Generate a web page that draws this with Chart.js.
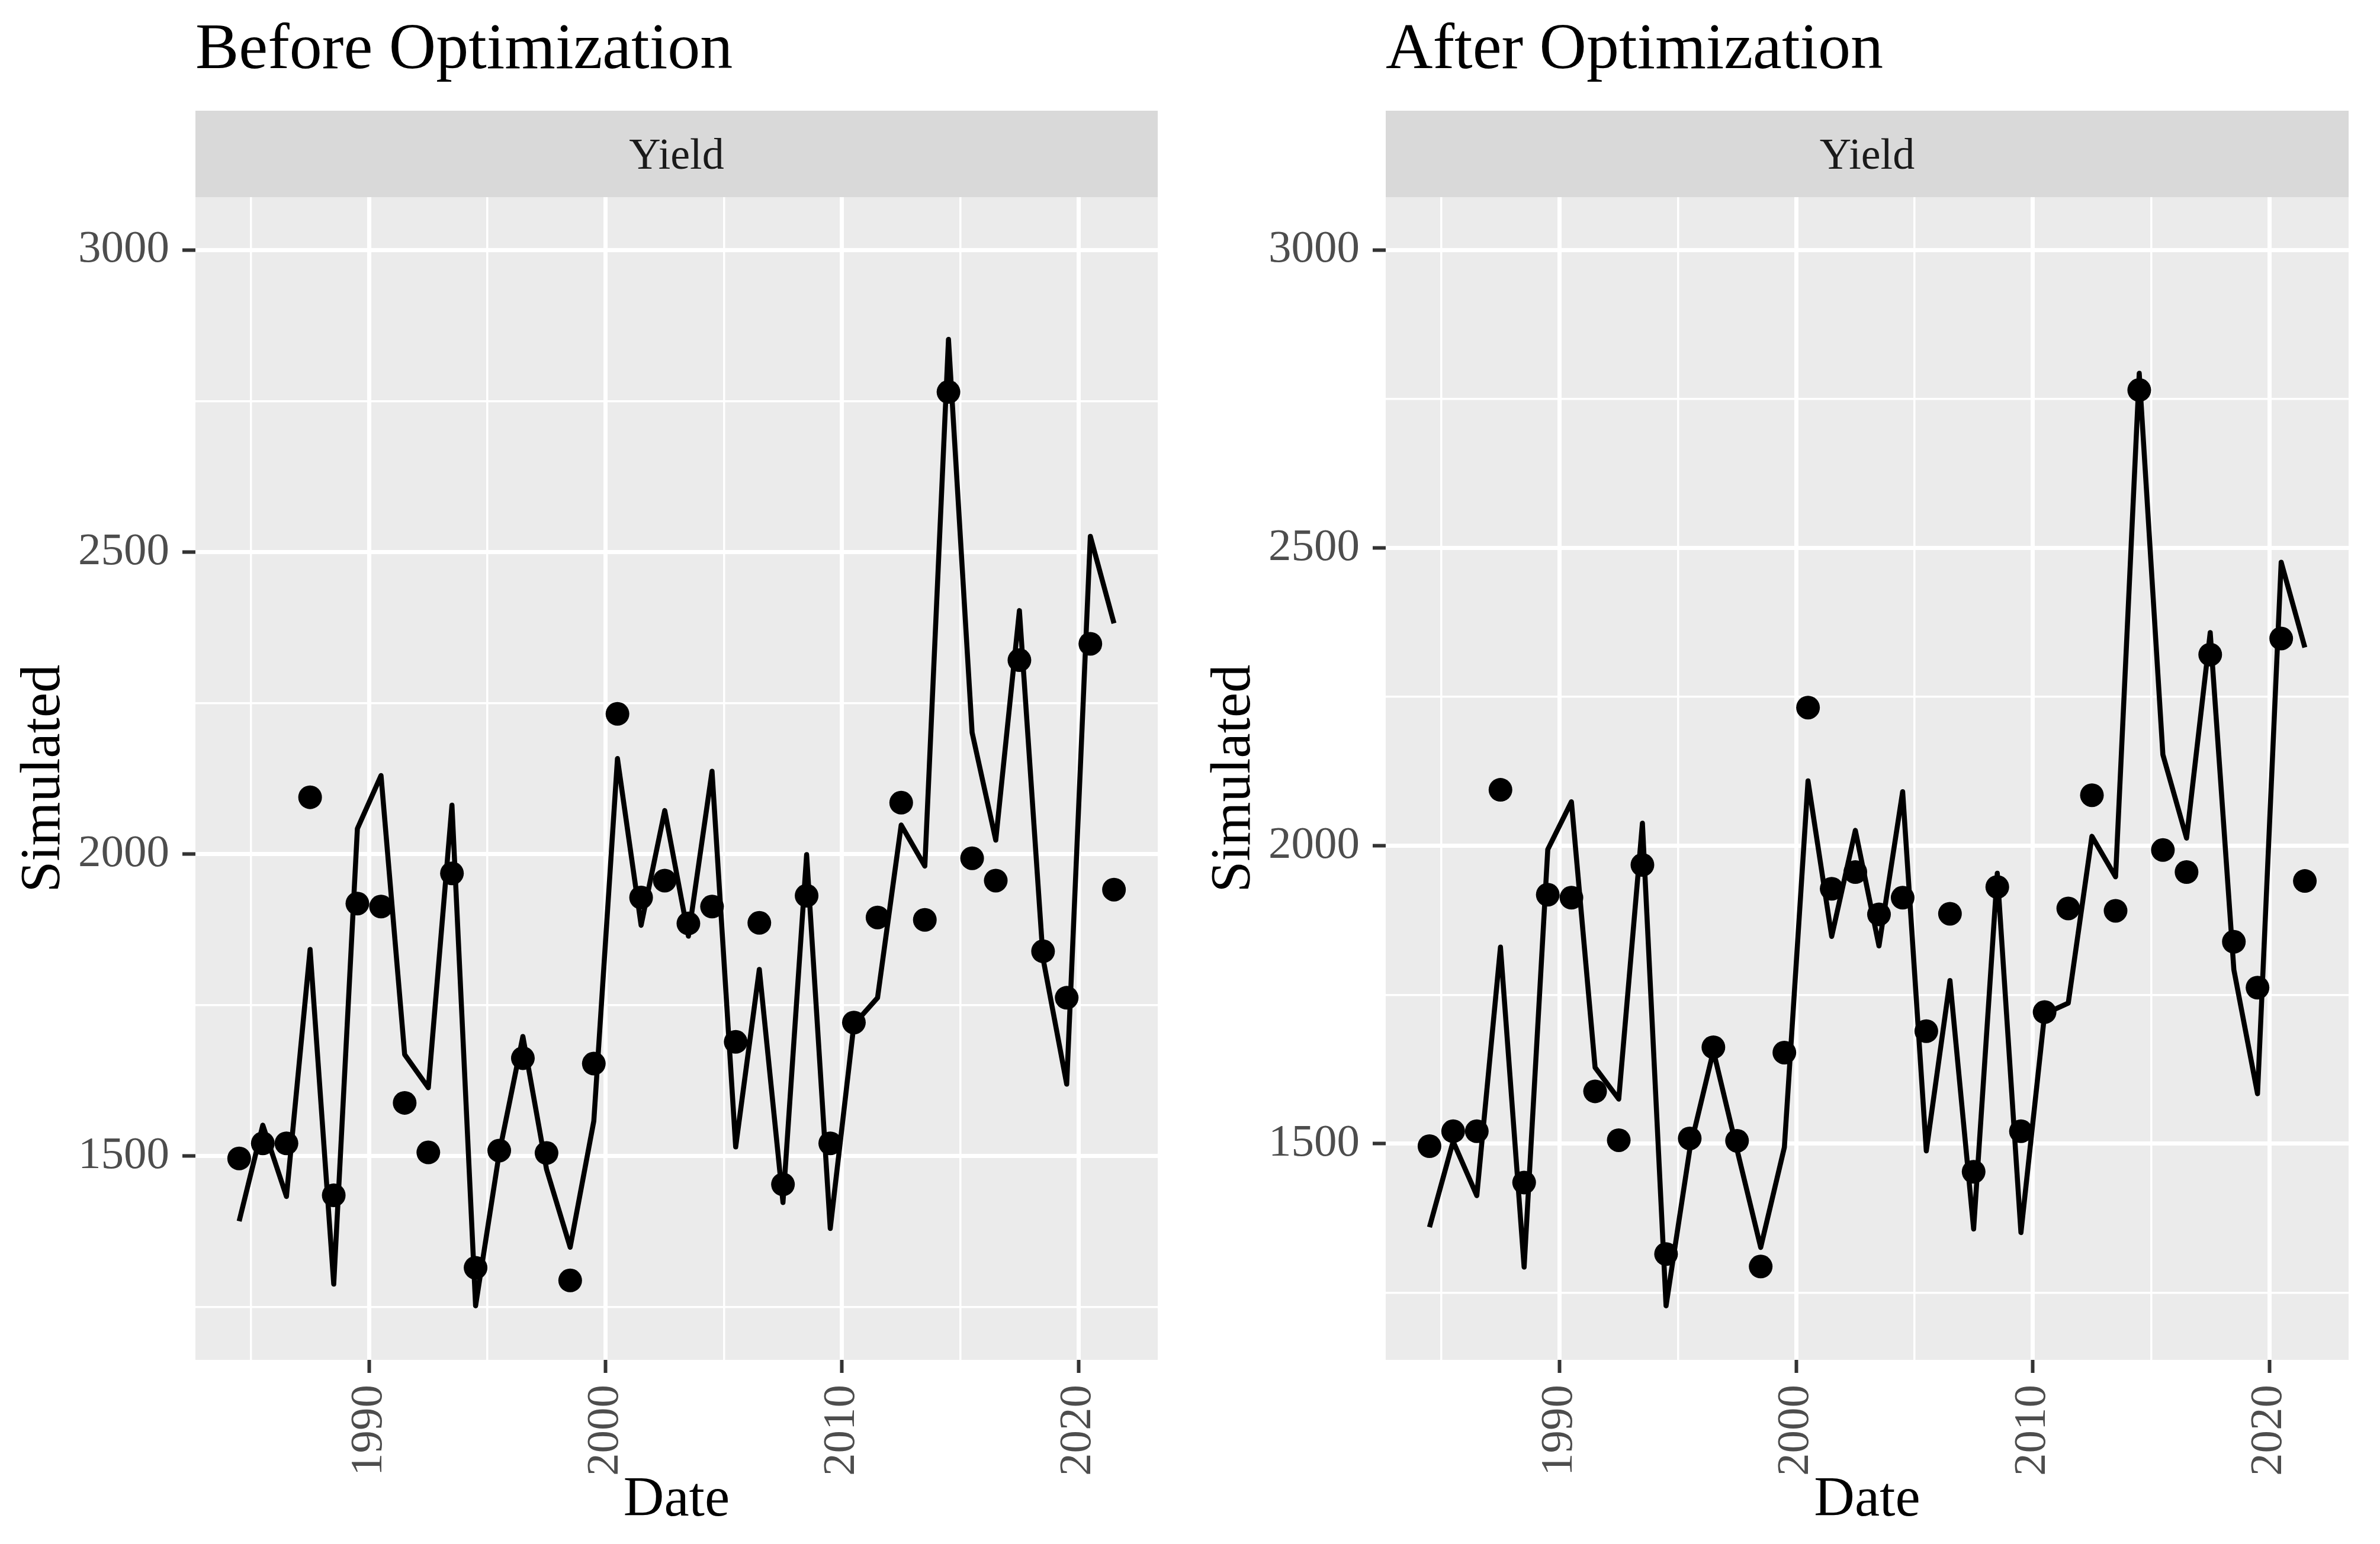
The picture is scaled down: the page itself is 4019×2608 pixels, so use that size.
<!DOCTYPE html>
<html>
<head>
<meta charset="utf-8">
<script src="https://cdn.jsdelivr.net/npm/chart.js@4.4.1/dist/chart.umd.min.js"></script>
<style>
  html, body { margin: 0; padding: 0; background: #FFFFFF; }
  #wrap { position: relative; width: 4019px; height: 2608px; overflow: hidden; background: #FFFFFF; }
  canvas { position: absolute; top: 0; }
</style>
</head>
<body>
<div id="wrap">
  <canvas id="c1" width="2010" height="2608" style="left:0px"></canvas>
  <canvas id="c2" width="2009" height="2608" style="left:2010px"></canvas>
</div>
<script>
// ---------------- DATA ----------------
const years = [1984.5, 1985.5, 1986.5, 1987.5, 1988.5, 1989.5, 1990.5, 1991.5, 1992.5, 1993.5,
               1994.5, 1995.5, 1996.5, 1997.5, 1998.5, 1999.5, 2000.5, 2001.5, 2002.5, 2003.5,
               2004.5, 2005.5, 2006.5, 2007.5, 2008.5, 2009.5, 2010.5, 2011.5, 2012.5, 2013.5,
               2014.5, 2015.5, 2016.5, 2017.5, 2018.5, 2019.5, 2020.5, 2021.5];

const observed = [1496, 1521, 1521, 2094, 1435, 1918, 1913, 1588, 1506, 1968,
                  1315, 1509, 1662, 1505, 1294, 1653, 2232, 1928, 1956, 1885,
                  1913, 1689, 1886, 1453, 1931, 1521, 1721, 1895, 2085, 1891,
                  2765, 1993, 1956, 2321, 1839, 1762, 2348, 1941];

const simulatedBefore = [1392, 1551, 1433, 1842, 1288, 2042, 2130, 1668, 1613, 2081,
                         1252, 1505, 1698, 1478, 1349, 1558, 2158, 1882, 2072, 1864,
                         2137, 1515, 1809, 1423, 1999, 1380, 1718, 1762, 2048, 1980,
                         2852, 2201, 2023, 2403, 1827, 1619, 2526, 2382];

const simulatedAfter = [1360, 1504, 1413, 1830, 1293, 1994, 2074, 1628, 1575, 2038,
                        1228, 1490, 1656, 1490, 1326, 1494, 2109, 1848, 2026, 1832,
                        2091, 1488, 1774, 1357, 1954, 1351, 1718, 1736, 2016, 1948,
                        2793, 2153, 2013, 2358, 1792, 1584, 2476, 2333];

const xTicks = [1985, 1990, 1995, 2000, 2005, 2010, 2015, 2020];
const xLabelTicks = [1990, 2000, 2010, 2020];
const yTicks = [1250, 1500, 1750, 2000, 2250, 2500, 2750, 3000];
const yLabelTicks = [1500, 2000, 2500, 3000];

const panelTitles = ["Before Optimization", "After Optimization"];
const stripLabel = "Yield";
const xTitle = "Date";
const yTitle = "Simulated";

// ---------------- STYLE ----------------
const FONT = '"Liberation Serif", "Times New Roman", serif';
const STRIP_TOP = 187;

const facetPlugin = {
  id: 'facetDecor',
  beforeDraw(chart, args, opts) {
    const { ctx, chartArea: a } = chart;
    ctx.save();
    ctx.fillStyle = '#EBEBEB';
    ctx.fillRect(a.left, a.top, a.right - a.left, a.bottom - a.top);
    ctx.fillStyle = '#D9D9D9';
    ctx.fillRect(a.left, STRIP_TOP, a.right - a.left, a.top - STRIP_TOP);
    ctx.fillStyle = '#1A1A1A';
    ctx.font = '74px ' + FONT;
    ctx.textAlign = 'center';
    ctx.textBaseline = 'alphabetic';
    ctx.fillText(opts.strip, (a.left + a.right) / 2, 285);
    ctx.fillStyle = '#000000';
    ctx.font = '110px ' + FONT;
    ctx.textAlign = 'left';
    ctx.fillText(opts.title, a.left, 115);
    ctx.restore();
  }
};

function makeChart(canvasId, title, sim, yMin, yMax, padRight, yTitlePad) {
  const simPts = years.map((x, i) => ({ x: x, y: sim[i] }));
  const obsPts = years.map((x, i) => ({ x: x, y: observed[i] }));
  return new Chart(document.getElementById(canvasId), {
    type: 'scatter',
    data: {
      datasets: [
        {
          label: 'Simulated',
          data: simPts,
          showLine: true,
          pointRadius: 0,
          borderColor: '#000000',
          borderWidth: 8.5,
          borderJoinStyle: 'round',
          borderCapStyle: 'butt',
          tension: 0,
          fill: false,
          order: 2
        },
        {
          label: 'Observed',
          data: obsPts,
          showLine: false,
          pointRadius: 20,
          pointBackgroundColor: '#000000',
          pointBorderWidth: 0,
          order: 1
        }
      ]
    },
    options: {
      responsive: false,
      animation: false,
      devicePixelRatio: 1,
      layout: { padding: { top: 333, right: padRight, bottom: 0, left: 0 } },
      plugins: {
        legend: { display: false },
        tooltip: { enabled: false },
        title: { display: false },
        facetDecor: { title: title, strip: stripLabel }
      },
      scales: {
        x: {
          type: 'linear',
          min: 1982.65,
          max: 2023.35,
          afterBuildTicks: s => { s.ticks = xTicks.map(v => ({ value: v })); },
          afterFit: s => { s.height = 311; },
          border: { display: false },
          grid: {
            color: '#FFFFFF',
            lineWidth: c => (c.tick && xLabelTicks.includes(c.tick.value)) ? 7 : 3.5,
            drawTicks: true,
            tickLength: 22,
            tickWidth: 6,
            tickColor: c => (c.tick && xLabelTicks.includes(c.tick.value)) ? '#333333' : 'rgba(0,0,0,0)'
          },
          ticks: {
            autoSkip: false,
            minRotation: 90,
            maxRotation: 90,
            padding: 20,
            color: '#4D4D4D',
            font: { family: FONT, size: 77 },
            callback: v => xLabelTicks.includes(v) ? String(v) : ''
          },
          title: {
            display: true,
            text: xTitle,
            color: '#000000',
            font: { family: FONT, size: 95, lineHeight: 1.2 },
            padding: { top: 0, bottom: 16 }
          }
        },
        y: {
          type: 'linear',
          min: yMin,
          max: yMax,
          afterBuildTicks: s => { s.ticks = yTicks.map(v => ({ value: v })); },
          afterFit: s => { s.width = 330; },
          border: { display: false },
          grid: {
            color: '#FFFFFF',
            lineWidth: c => (c.tick && yLabelTicks.includes(c.tick.value)) ? 7 : 3.5,
            drawTicks: true,
            tickLength: 22,
            tickWidth: 6,
            tickColor: c => (c.tick && yLabelTicks.includes(c.tick.value)) ? '#333333' : 'rgba(0,0,0,0)'
          },
          ticks: {
            autoSkip: false,
            padding: 22,
            color: '#4D4D4D',
            font: { family: FONT, size: 77 },
            callback: v => yLabelTicks.includes(v) ? String(v) : ''
          },
          title: {
            display: true,
            text: yTitle,
            color: '#000000',
            font: { family: FONT, size: 95, lineHeight: 1.2 },
            padding: { top: yTitlePad, bottom: 0 }
          }
        }
      }
    },
    plugins: [facetPlugin]
  });
}

makeChart('c1', panelTitles[0], simulatedBefore, 1162.5, 3087.5, 55, 18);
makeChart('c2', panelTitles[1], simulatedAfter, 1137.3, 3088.7, 53, 18);
</script>
</body>
</html>
